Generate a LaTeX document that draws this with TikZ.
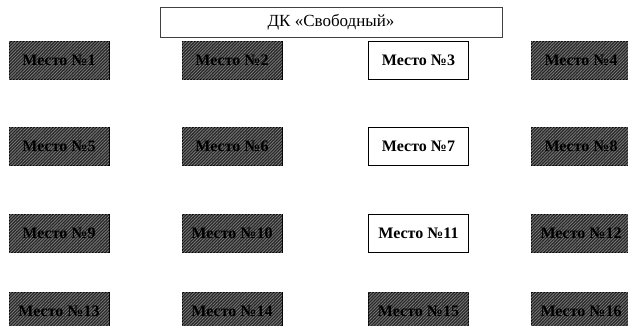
\documentclass[tikz,border=0pt]{standalone}
\usepackage{fontspec}
\setmainfont{Liberation Serif}
\usetikzlibrary{patterns.meta}
\definecolor{hatchdark}{HTML}{262626}
\definecolor{hatchlight}{HTML}{7A7A7A}
\tikzset{place/.style={draw=black, line width=0.8pt, minimum width=100pt, minimum height=38pt, inner sep=0pt, font=\fontsize{16}{18}\selectfont\bfseries}}
\tikzset{busy/.style={place, fill=hatchdark, postaction={pattern={Lines[angle=45, distance=2.2pt, line width=0.8pt]}, pattern color=hatchlight}}}

\begin{document}
\begin{tikzpicture}[x=1pt, y=1pt]
    \useasboundingbox (0,0) rectangle (628,-325);
    \node[draw=black!75, line width=0.8pt, minimum width=342pt, minimum height=30pt, inner sep=0pt, font=\fontsize{17}{19}\selectfont] (title) at (331,-22) {ДК «Свободный»};
% % % % % % % % % % % % % % % % % % %
    \node[busy] (p1) at (59,-60) {Место №1};
    \node[busy] (p2) at (232,-60) {Место №2};
    \node[place] (p3) at (418.5,-60) {Место №3};
    \node[busy] (p4) at (581,-60) {Место №4};
% % % % % % % % % % % % % % % % % % %
    \node[busy] (p5) at (59,-146) {Место №5};
    \node[busy] (p6) at (232,-146) {Место №6};
    \node[place] (p7) at (418.5,-146) {Место №7};
    \node[busy] (p8) at (581,-146) {Место №8};
% % % % % % % % % % % % % % % % % % %
    \node[busy] (p9) at (59,-233) {Место №9};
    \node[busy] (p10) at (232,-233) {Место №10};
    \node[place] (p11) at (418.5,-233) {Место №11};
    \node[busy] (p12) at (581,-233) {Место №12};
% % % % % % % % % % % % % % % % % % %
    \node[busy] (p13) at (59,-311) {Место №13};
    \node[busy] (p14) at (232,-311) {Место №14};
    \node[busy] (p15) at (418.5,-311) {Место №15};
    \node[busy] (p16) at (581,-311) {Место №16};
\end{tikzpicture}
\end{document}
